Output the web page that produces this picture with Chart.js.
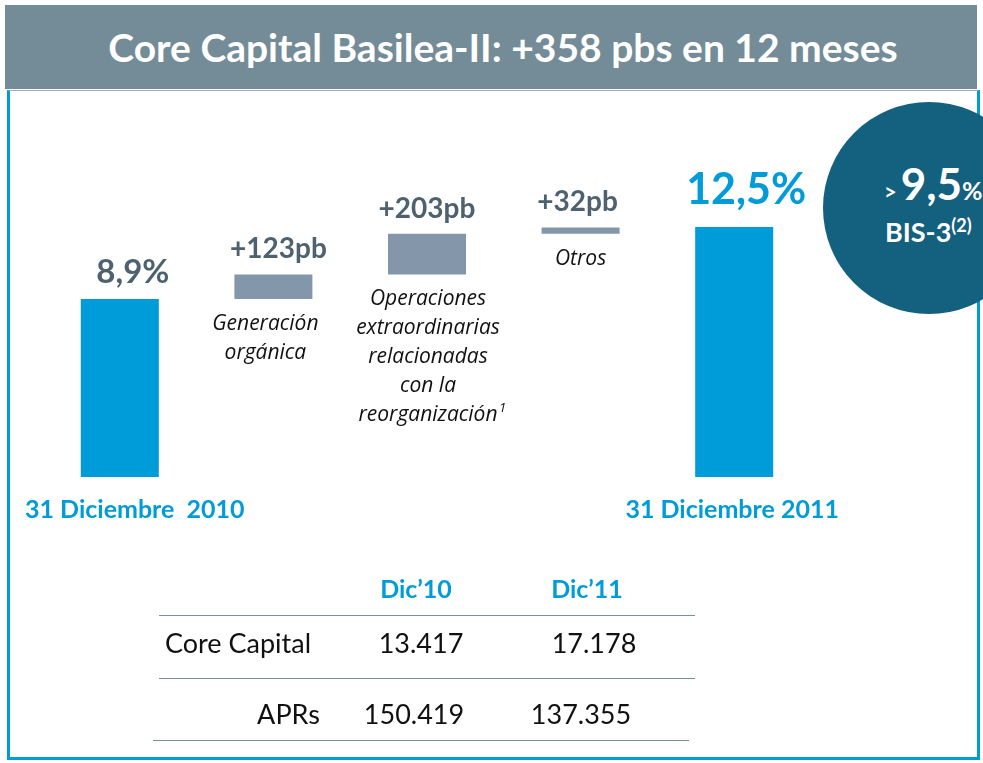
<!DOCTYPE html>
<html>
<head>
<meta charset="utf-8">
<script src="https://cdn.jsdelivr.net/npm/chart.js@4.4.1/dist/chart.umd.min.js"></script>
<style>
  html, body { margin: 0; padding: 0; background: #fff; }
  body { width: 983px; height: 763px; position: relative; overflow: hidden; font-family: Lato, "Open Sans", sans-serif; }
  .header { position: absolute; left: 5px; top: 5px; width: 948px; padding-left: 24px; height: 84px; background: #748b98;
    color: #fff; font-weight: 700; font-size: 39px; text-align: center; line-height: 84px; }
  .frame { position: absolute; left: 7px; top: 90px; width: 967px; height: 666px; border: 3px solid #009bd9; border-top: 1px solid #9fb0ba; }
  .circle { position: absolute; left: 823px; top: 102px; width: 212px; height: 212px; border-radius: 50%; background: #14607f; color: #fff; font-weight: 700; }
  .circle .big { position: absolute; left: 61px; top: 55px; white-space: nowrap; }
  .circle .bis { position: absolute; left: 62px; top: 112px; font-size: 27px; white-space: nowrap; }
  canvas { position: absolute; left: 0; top: 0; }
  .tbl { position: absolute; font-size: 27px; color: #111; white-space: nowrap; }
  .th { position: absolute; font-size: 25px; font-weight: 700; color: #009bd9; }
  .rule { position: absolute; height: 1px; background: #7890a0; }
</style>
</head>
<body>
<div class="header">Core Capital Basilea-II: +358 pbs en 12 meses</div>
<div class="frame"></div>
<div class="circle">
  <div class="big"><span style="font-size:22px">&gt;</span> <span style="font-size:44px">9,5</span><span style="font-size:25px">%</span></div>
  <div class="bis">BIS-3<sup style="font-size:18px">(2)</sup></div>
</div>
<canvas id="wf" width="983" height="763"></canvas>
<div id="table"></div>
<script>
// ── Waterfall data ──
const categories = ['31 Diciembre  2010', 'Generación orgánica', 'Operaciones extraordinarias', 'Otros', '31 Diciembre 2011'];
const startValues = [0, 8.9, 10.13, 12.16, 0];
const endValues = [8.9, 10.13, 12.16, 12.48, 12.5];
const valueLabels = ['8,9%', '+123pb', '+203pb', '+32pb', '12,5%'];
const descLines = [
  [],
  ['Generación', 'orgánica'],
  ['Operaciones', 'extraordinarias', 'relacionadas', 'con la', 'reorganización'],
  ['Otros'],
  []
];
const axisLabels = ['31 Diciembre  2010', '', '', '', '31 Diciembre 2011'];

// table
const tableCols = ['Dic\u201910', 'Dic\u201911'];
const tableRows = ['Core Capital', 'APRs'];
const coreCapital = ['13.417', '17.178'];
const aprs = ['150.419', '137.355'];

const BLUE = '#009bd9';
const GREY = '#8497aa';
const DARK = '#4d626e';

// label offsets (style only)
const labelDx = [13, 5, 0, -3, 12];
const axisDx = [15, 0, 0, 0, -2];
const labelFont = [33, 28, 28, 28, 43];
const labelColor = [DARK, DARK, DARK, DARK, BLUE];
const descDx = [0, -8, 1, 0, 0];
const DESC_FONT = 'italic 21px "Open Sans", sans-serif';

const labelsPlugin = {
  id: 'wfLabels',
  afterDatasetsDraw(chart) {
    const ctx = chart.ctx;
    const meta = chart.getDatasetMeta(0);
    ctx.save();
    ctx.textAlign = 'center';
    meta.data.forEach((bar, i) => {
      const top = Math.min(bar.y, bar.base);
      const bottom = Math.max(bar.y, bar.base);
      // value above bar
      ctx.fillStyle = labelColor[i];
      ctx.font = `700 ${labelFont[i]}px Lato, sans-serif`;
      ctx.fillText(valueLabels[i], bar.x + labelDx[i], top - (i === 4 ? 23 : 16));
      // description under floating bar
      ctx.fillStyle = '#111';
      ctx.font = DESC_FONT;
      descLines[i].forEach((line, j) => {
        const y = bottom + 31 + j * 29;
        ctx.fillText(line, bar.x + descDx[i], y);
        if (line === 'reorganización') {
          const w = ctx.measureText(line).width;
          ctx.font = 'italic 13px "Open Sans", sans-serif';
          ctx.fillText('1', bar.x + descDx[i] + w / 2 + 5, y - 9);
          ctx.font = DESC_FONT;
        }
      });
      // category label under total bars
      if (axisLabels[i]) {
        ctx.fillStyle = BLUE;
        ctx.font = '700 25px Lato, sans-serif';
        ctx.fillText(axisLabels[i], bar.x + axisDx[i], bottom + 41);
      }
    });
    ctx.restore();
  }
};

new Chart(document.getElementById('wf').getContext('2d'), {
  type: 'bar',
  data: {
    labels: categories,
    datasets: [{
      data: startValues.map((s, i) => [s, endValues[i]]),
      backgroundColor: [BLUE, GREY, GREY, GREY, BLUE],
      borderWidth: 0,
      barPercentage: 0.508,
      categoryPercentage: 1
    }]
  },
  options: {
    responsive: false,
    animation: false,
    devicePixelRatio: 1,
    layout: { padding: { left: 43, right: 172, top: 127, bottom: 286 } },
    scales: {
      x: { display: false },
      y: { display: false, min: 0, max: 17.5 }
    },
    plugins: { legend: { display: false }, tooltip: { enabled: false } }
  },
  plugins: [labelsPlugin]
});

// ── Table under the chart ──
function renderTable() {
  const colX = [416, 587];
  const colValX = [[421, 594], [414, 581]];
  const rowY = [644, 715];
  let html = '';
  tableCols.forEach((c, i) => {
    html += `<div class="th" style="left:${colX[i] - 60}px;width:120px;text-align:center;top:573px">${c}</div>`;
  });
  [[159, 615, 536], [159, 678, 536], [153, 740, 536]].forEach(r => {
    html += `<div class="rule" style="left:${r[0]}px;top:${r[1]}px;width:${r[2]}px"></div>`;
  });
  const vals = [coreCapital, aprs];
  tableRows.forEach((name, r) => {
    const top = rowY[r] - 18;
    html += `<div class="tbl" style="left:${r === 0 ? 165 : 160}px;width:160px;text-align:${r === 0 ? 'left' : 'right'};top:${top}px">${name}</div>`;
    vals[r].forEach((v, c) => {
      html += `<div class="tbl" style="left:${colValX[r][c] - 70}px;width:140px;text-align:center;top:${top}px">${v}</div>`;
    });
  });
  document.getElementById('table').innerHTML = html;
}
renderTable();
</script>
</body>
</html>
